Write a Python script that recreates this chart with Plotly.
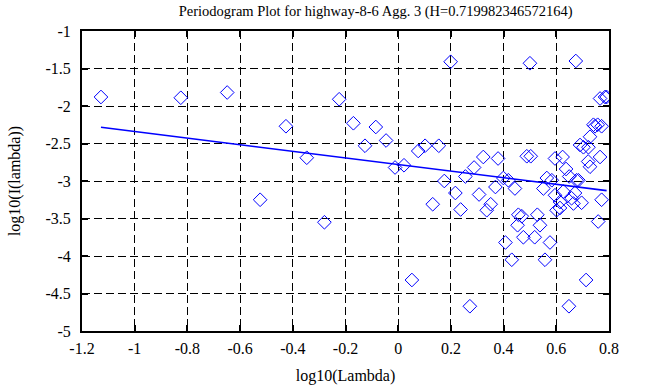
import plotly.graph_objects as go
import numpy as np

log_lambda = [-1.128, -0.825, -0.649, -0.524, -0.426, -0.347, -0.280, -0.224, -0.170, -0.126,
              -0.085, -0.046, -0.012, 0.022, 0.052, 0.076, 0.102, 0.131, 0.154, 0.175,
              0.199, 0.217, 0.237, 0.255, 0.272, 0.288, 0.307, 0.323, 0.336, 0.351,
              0.369, 0.379, 0.399, 0.407, 0.418, 0.431, 0.443, 0.453, 0.456, 0.469,
              0.475, 0.488, 0.500, 0.503, 0.518, 0.528, 0.538, 0.551, 0.557, 0.564,
              0.576, 0.583, 0.595, 0.595, 0.601, 0.614, 0.614, 0.624, 0.627, 0.637,
              0.648, 0.649, 0.658, 0.665, 0.671, 0.674, 0.677, 0.690, 0.696, 0.703,
              0.713, 0.721, 0.728, 0.728, 0.741, 0.747, 0.759, 0.757, 0.766, 0.766,
              0.772, 0.772, 0.785, 0.791, 0.722, 0.684]
log_I = [-1.88, -1.89, -1.82, -3.25, -2.27, -2.69, -3.55, -1.91, -2.23, -2.53,
         -2.28, -2.46, -2.82, -2.79, -4.32, -2.60, -2.53, -3.31, -2.53, -3.00,
         -1.41, -3.16, -3.38, -2.94, -4.67, -2.82, -3.18, -2.68, -3.39, -3.31,
         -3.08, -2.70, -2.96, -3.82, -2.99, -4.05, -3.10, -3.59, -3.45, -3.47,
         -3.75, -2.67, -1.43, -2.67, -3.75, -3.45, -3.59, -3.10, -4.05, -2.96,
         -3.82, -2.99, -2.70, -3.19, -3.39, -3.28, -3.36, -2.68, -3.14, -2.84,
         -4.67, -2.94, -3.23, -3.30, -3.16, -1.40, -2.99, -2.52, -3.29, -2.55,
         -4.32, -2.74, -2.81, -2.41, -2.25, -2.27, -3.54, -2.25, -2.68, -1.90,
         -3.25, -2.27, -1.88, -1.88, -2.55, -2.99]

H = 0.719982346572164
slope = 1 - 2 * H
intercept = -2.780

x_ticks = [-1.2, -1, -0.8, -0.6, -0.4, -0.2, 0, 0.2, 0.4, 0.6, 0.8]
x_tick_text = ["-1.2", "-1", "-0.8", "-0.6", "-0.4", "-0.2", "0", "0.2", "0.4", "0.6", "0.8"]
y_ticks = [-5, -4.5, -4, -3.5, -3, -2.5, -2, -1.5, -1]
y_tick_text = ["-5", "-4.5", "-4", "-3.5", "-3", "-2.5", "-2", "-1.5", "-1"]

line_x = np.array([min(log_lambda), max(log_lambda)])
line_y = intercept + slope * line_x

fig = go.Figure()
fig.add_trace(go.Scatter(
    x=log_lambda, y=log_I, mode="markers",
    marker=dict(symbol="diamond-open", size=10.5, color="#0000ff", line=dict(width=1, color="#0000ff")),
    showlegend=False))
fig.add_trace(go.Scatter(
    x=line_x, y=line_y, mode="lines",
    line=dict(color="#0000ff", width=1.6), showlegend=False))

font_family = "Liberation Serif, Times New Roman, serif"
axis_common = dict(
    showline=True, linecolor="black", linewidth=2, mirror="ticks",
    ticks="inside", ticklen=6, tickwidth=2, tickcolor="black",
    showgrid=True, gridcolor="black", gridwidth=1, griddash="8px,4px",
    zeroline=False, tickfont=dict(family=font_family, size=16, color="black"),
    automargin=False,
)
fig.update_xaxes(range=[-1.2, 0.8], tickvals=x_ticks, ticktext=x_tick_text, ticklabelstandoff=2,
                 title=dict(text="log10(Lambda)", font=dict(family=font_family, size=16, color="black"), standoff=14),
                 **axis_common)
fig.update_yaxes(range=[-5, -1], tickvals=y_ticks, ticktext=y_tick_text, ticklabelstandoff=6,
                 title=dict(text="log10(I(lambda))", font=dict(family=font_family, size=16, color="black"), standoff=21),
                 **axis_common)
fig.update_layout(
    width=658, height=387,
    margin=dict(l=82, r=49, t=31, b=56),
    plot_bgcolor="white", paper_bgcolor="white",
    title=dict(text="Periodogram Plot for highway-8-6 Agg. 3 (H=0.719982346572164)",
               font=dict(family=font_family, size=14.5, color="black"),
               x=0.571, xanchor="center", xref="container", y=0.985, yanchor="top"),
)
fig.write_html("out.html", config={"displayModeBar": False},
               post_script="document.body.style.margin='0';")
